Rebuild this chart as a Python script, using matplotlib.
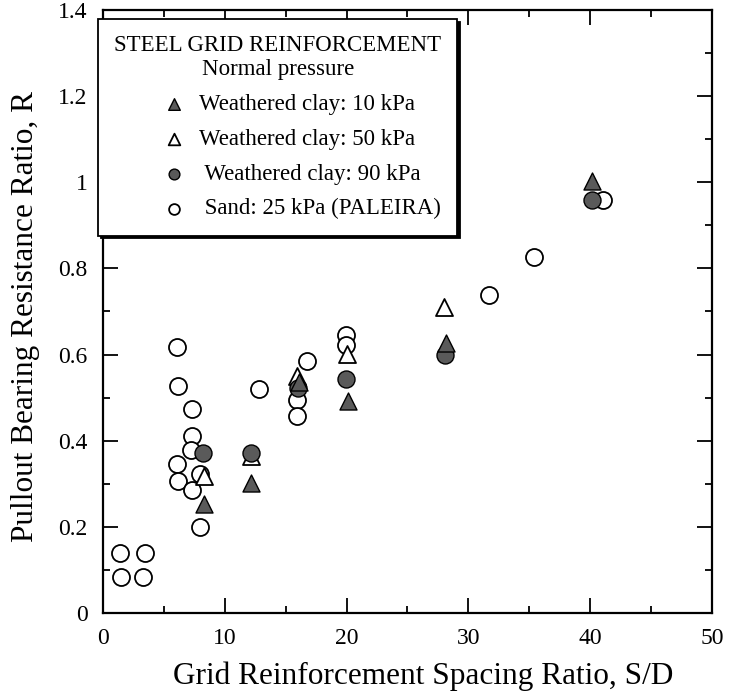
import matplotlib
matplotlib.use('Agg')
import matplotlib.pyplot as plt
from matplotlib.ticker import MultipleLocator

# ---------------------------------------------------------------
# Datos (S/D , R)
# ---------------------------------------------------------------
sand_x = [1.40, 1.45, 3.45, 3.28, 6.10, 6.13, 12.81, 7.31, 7.28, 7.22,
          6.05, 6.18, 7.33, 7.96, 7.96, 19.95, 19.95, 16.72, 15.95, 15.95,
          31.69, 35.41, 41.08]
sand_r = [0.139, 0.084, 0.139, 0.084, 0.617, 0.526, 0.520, 0.474, 0.410, 0.379,
          0.346, 0.307, 0.286, 0.199, 0.323, 0.646, 0.623, 0.585, 0.495, 0.458,
          0.739, 0.826, 0.958]

clay50_x = [8.32, 12.15, 15.90, 20.00, 28.02]
clay50_r = [0.317, 0.365, 0.549, 0.602, 0.711]

clay90_x = [8.19, 12.15, 16.03, 19.93, 28.08, 40.12]
clay90_r = [0.371, 0.372, 0.522, 0.543, 0.599, 0.958]

clay10_x = [8.29, 12.15, 16.09, 20.14, 28.14, 40.12]
clay10_r = [0.253, 0.301, 0.537, 0.493, 0.626, 1.002]

labels = ['Weathered clay: 10 kPa', 'Weathered clay: 50 kPa',
          ' Weathered clay: 90 kPa', ' Sand: 25 kPa (PALEIRA)']
yticklabels = ['0', '0.2', '0.4', '0.6', '0.8', '1', '1.2', '1.4']

plt.rcParams['font.family'] = ['Liberation Serif', 'DejaVu Serif']

fig = plt.figure(figsize=(7.31, 6.96), dpi=100)
ax = fig.add_axes([0.1409, 0.1193, 0.8331, 0.8664])

MS = 150
GRIS = '#5a5a5a'
ax.scatter(sand_x, sand_r, s=MS, marker='o', facecolor='white',
           edgecolor='black', linewidth=1.3, zorder=3)
ax.scatter(clay50_x, clay50_r, s=MS, marker='^', facecolor='white',
           edgecolor='black', linewidth=1.3, zorder=4)
ax.scatter(clay90_x, clay90_r, s=MS, marker='o', facecolor=GRIS,
           edgecolor='black', linewidth=1.0, zorder=5)
ax.scatter(clay10_x, clay10_r, s=MS, marker='^', facecolor=GRIS,
           edgecolor='black', linewidth=1.0, zorder=6)

ax.set_xlim(0, 50)
ax.set_ylim(0, 1.4)
ax.xaxis.set_major_locator(MultipleLocator(10))
ax.xaxis.set_minor_locator(MultipleLocator(5))
ax.yaxis.set_minor_locator(MultipleLocator(0.1))
ax.set_yticks([0, 0.2, 0.4, 0.6, 0.8, 1.0, 1.2, 1.4])
ax.set_yticklabels(yticklabels)

ax.tick_params(which='both', direction='in', top=True, right=True,
               labelsize=17, width=1.3)
ax.tick_params(which='major', length=11)
ax.tick_params(which='minor', length=5)
ax.tick_params(axis='x', pad=11)
ax.tick_params(axis='y', pad=11)
for sp in ax.spines.values():
    sp.set_linewidth(1.6)

ax.set_xlabel('Grid Reinforcement Spacing Ratio, S/D', fontsize=22.5)
ax.set_ylabel('Pullout Bearing Resistance Ratio, R', fontsize=22.5)
ax.xaxis.set_label_coords(0.525, -0.080)
ax.yaxis.set_label_coords(-0.103, 0.491)

# Leyenda (con proxies para los marcadores)
h1 = ax.scatter([], [], s=70, marker='^', facecolor=GRIS, edgecolor='black', linewidth=1.0)
h2 = ax.scatter([], [], s=70, marker='^', facecolor='white', edgecolor='black', linewidth=1.3)
h3 = ax.scatter([], [], s=60, marker='o', facecolor=GRIS, edgecolor='black', linewidth=1.0)
h4 = ax.scatter([], [], s=60, marker='o', facecolor='white', edgecolor='black', linewidth=1.3)
leg = ax.legend([h1, h2, h3, h4], labels,
                title='STEEL GRID REINFORCEMENT\nNormal pressure',
                loc='upper left', bbox_to_anchor=(-0.008, 0.985),
                borderaxespad=0, fontsize=16.5, title_fontsize=16.5,
                alignment='right', frameon=True, fancybox=False,
                shadow={'color': 'black', 'alpha': 1.0},
                edgecolor='black', framealpha=1, handletextpad=0.6,
                handlelength=1.0, labelspacing=0.6, borderpad=0.7)
leg.get_frame().set_linewidth(1.3)
leg.get_title().set_multialignment('center')
leg.set_zorder(10)

plt.savefig('out.png', dpi=100)
